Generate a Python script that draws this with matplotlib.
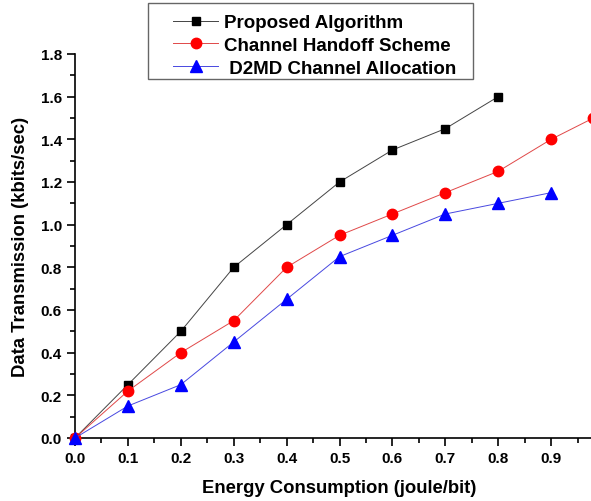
import numpy as np
import matplotlib.pyplot as plt
from matplotlib.patches import Rectangle
from matplotlib.ticker import MultipleLocator

plt.rcParams['font.family'] = ['Liberation Sans', 'DejaVu Sans']
plt.rcParams['font.weight'] = 'bold'

x_prop = [0.0, 0.1, 0.2, 0.3, 0.4, 0.5, 0.6, 0.7, 0.8]
y_prop = [0.0, 0.25, 0.5, 0.8, 1.0, 1.2, 1.35, 1.45, 1.6]

x_hand = [0.0, 0.1, 0.2, 0.3, 0.4, 0.5, 0.6, 0.7, 0.8, 0.9, 0.98]
y_hand = [0.0, 0.22, 0.4, 0.55, 0.8, 0.95, 1.05, 1.15, 1.25, 1.4, 1.5]

x_d2md = [0.0, 0.1, 0.2, 0.3, 0.4, 0.5, 0.6, 0.7, 0.8, 0.9]
y_d2md = [0.0, 0.15, 0.25, 0.45, 0.65, 0.85, 0.95, 1.05, 1.1, 1.15]

labels = ["Proposed Algorithm", "Channel Handoff Scheme", " D2MD Channel Allocation"]
xticks = [0.0, 0.1, 0.2, 0.3, 0.4, 0.5, 0.6, 0.7, 0.8, 0.9]

fig = plt.figure(figsize=(5.91, 5.02), dpi=100)
ax = fig.add_axes([75 / 591, 63 / 502, 529 / 591, 384 / 502])

# thin, slightly faded connecting lines, solid markers
ax.plot(x_prop, y_prop, color="#444444", lw=0.7, marker="s", ms=6,
        mfc="black", mec="black", label=labels[0], clip_on=False, zorder=3)
ax.plot(x_hand, y_hand, color="#e04848", lw=0.7, marker="o", ms=7.5,
        mfc="red", mec="red", label=labels[1], clip_on=False, zorder=3)
ax.plot(x_d2md, y_d2md, color="#4848e0", lw=0.7, marker="^", ms=8,
        mfc="blue", mec="blue", label=labels[2], clip_on=False, zorder=3)

ax.set_xlim(0, 1.0)
ax.set_ylim(0, 1.8)
ax.set_xticks(xticks)
ax.set_xticklabels([f"{v:.1f}" for v in xticks])
ax.xaxis.set_minor_locator(MultipleLocator(0.05))
ax.yaxis.set_major_locator(MultipleLocator(0.2))
ax.yaxis.set_minor_locator(MultipleLocator(0.1))
ax.yaxis.set_major_formatter(plt.FormatStrFormatter("%.1f"))

ax.spines['top'].set_visible(False)
ax.spines['right'].set_visible(False)
ax.spines['left'].set_linewidth(1.2)
ax.spines['bottom'].set_linewidth(1.2)
ax.tick_params(which='major', direction='out', length=6, width=1.2, labelsize=11)
ax.tick_params(which='minor', direction='out', length=3.5, width=1.2)

ax.set_xlabel("Energy Consumption (joule/bit)", fontsize=13.3, fontweight='bold', labelpad=10)
ax.set_ylabel("Data Transmission (kbits/sec)", fontsize=13.3, fontweight='bold', labelpad=8)

leg = fig.legend(loc='upper left', bbox_to_anchor=(173 / 591, 1 - 15 / 502),
                 fontsize=13.5, frameon=False, handlelength=2.4,
                 borderpad=0, labelspacing=0.3, handletextpad=0.3,
                 borderaxespad=0)
for t in leg.get_texts():
    t.set_fontweight('bold')

# legend box drawn separately: it is much wider than the entries
fig.patches.append(Rectangle((148 / 591, 1 - 80 / 502), 325 / 591, 76 / 502,
                             transform=fig.transFigure, fill=False,
                             edgecolor='#666666', linewidth=1.0))

plt.savefig("out.png", dpi=100)
